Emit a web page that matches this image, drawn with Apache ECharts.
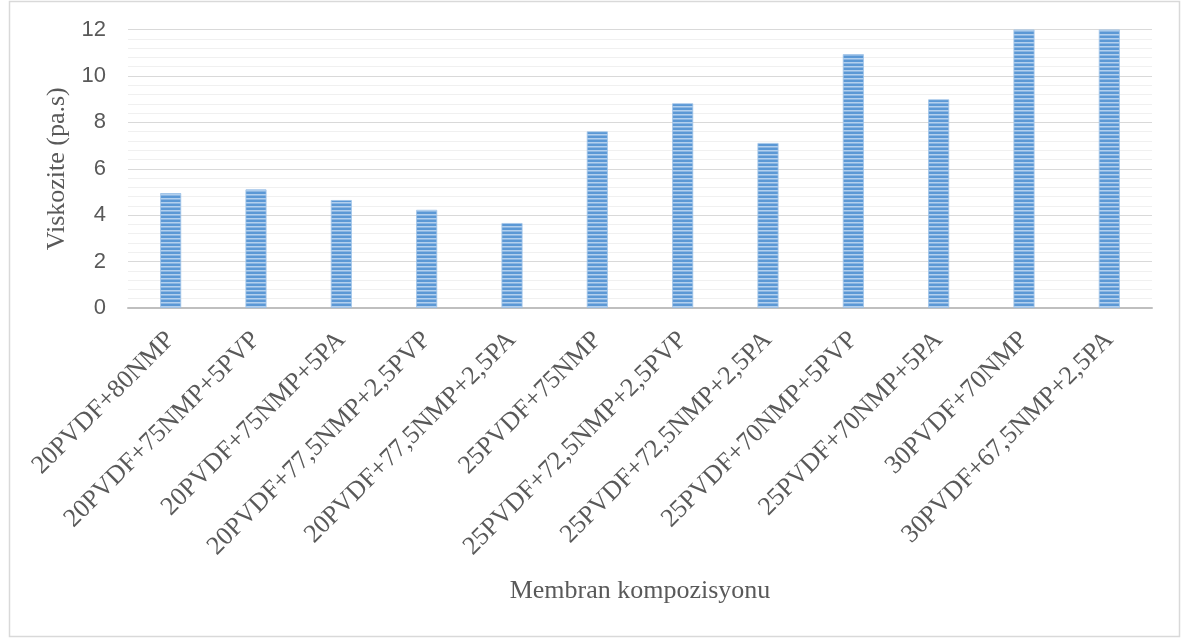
<!DOCTYPE html>
<html>
<head>
<meta charset="utf-8">
<script src="https://cdn.jsdelivr.net/npm/echarts@6/dist/echarts.min.js"></script>
<style>
  html, body { margin: 0; padding: 0; background: #ffffff; }
  #chart { width: 1181px; height: 639px; }
</style>
</head>
<body>
<div id="chart"></div>
<script>
// Membrane compositions on the category axis
const categories = [
  '20PVDF+80NMP',
  '20PVDF+75NMP+5PVP',
  '20PVDF+75NMP+5PA',
  '20PVDF+77,5NMP+2,5PVP',
  '20PVDF+77,5NMP+2,5PA',
  '25PVDF+75NMP',
  '25PVDF+72,5NMP+2,5PVP',
  '25PVDF+72,5NMP+2,5PA',
  '25PVDF+70NMP+5PVP',
  '25PVDF+70NMP+5PA',
  '30PVDF+70NMP',
  '30PVDF+67,5NMP+2,5PA'
];

// Viscosity of each casting solution (Pa.s)
const viscosity = [4.95, 5.11, 4.65, 4.23, 3.66, 7.61, 8.82, 7.11, 10.94, 8.99, 12, 12];

// Value-axis ticks
const yTicks = [0, 2, 4, 6, 8, 10, 12];

const yTitle = 'Viskozite (pa.s)';
const xTitle = 'Membran kompozisyonu';

// Horizontal stripe fill for the bars
function stripeFill() {
  const c = document.createElement('canvas');
  c.width = 4; c.height = 4;
  const g = c.getContext('2d');
  g.fillStyle = '#5b98d5';
  g.fillRect(0, 0, 4, 2);
  g.fillStyle = '#b3d0ee';
  g.fillRect(0, 2, 4, 1);
  g.fillStyle = '#8ab5e2';
  g.fillRect(0, 3, 4, 1);
  return c;
}

const chart = echarts.init(document.getElementById('chart'), null, { renderer: 'canvas' });

const serif = '"Liberation Serif", "Times New Roman", serif';
const sans = '"Liberation Sans", Arial, sans-serif';

chart.setOption({
  animation: false,
  backgroundColor: '#ffffff',
  graphic: [{
    type: 'rect',
    shape: { x: 9.5, y: 1.5, width: 1170, height: 635 },
    style: { fill: 'none', stroke: '#d9d9d9', lineWidth: 1.5 },
    silent: true,
    z: -1
  }],
  grid: { left: 128, right: 29, top: 29.5, bottom: 331, containLabel: false },
  xAxis: {
    type: 'category',
    data: categories,
    name: xTitle,
    nameLocation: 'middle',
    nameGap: 270,
    nameTextStyle: { fontFamily: serif, fontSize: 26, color: '#595959' },
    axisLine: { show: true, lineStyle: { color: '#bfbfbf', width: 2 } },
    axisTick: { show: false },
    axisLabel: {
      interval: 0,
      rotate: 45,
      margin: 28,
      fontFamily: serif,
      fontSize: 26,
      color: '#595959'
    },
    splitLine: { show: false }
  },
  yAxis: {
    type: 'value',
    min: yTicks[0],
    max: yTicks[yTicks.length - 1],
    interval: yTicks[1] - yTicks[0],
    name: yTitle,
    nameLocation: 'middle',
    nameGap: 56,
    nameRotate: 90,
    nameTextStyle: { fontFamily: serif, fontSize: 26, color: '#595959' },
    axisLine: { show: false },
    axisTick: { show: false },
    axisLabel: { margin: 22, fontFamily: sans, fontSize: 22, color: '#595959' },
    splitLine: { show: true, lineStyle: { color: '#d9d9d9', width: 1 } },
    minorTick: { show: false, splitNumber: 5 },
    minorSplitLine: { show: true, lineStyle: { color: '#f0f0f0', width: 1 } }
  },
  series: [{
    type: 'bar',
    data: viscosity,
    barWidth: 21,
    itemStyle: {
      color: { image: stripeFill(), repeat: 'repeat' },
      borderColor: '#9ec3e8',
      borderWidth: 0.8
    }
  }]
});
</script>
</body>
</html>
